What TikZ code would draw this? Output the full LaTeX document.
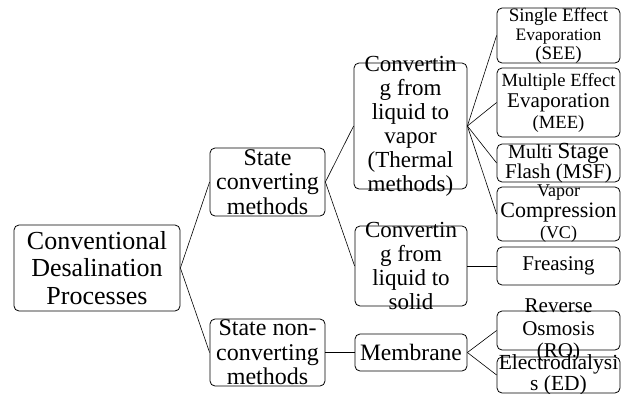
\documentclass[tikz,border=0pt]{standalone}
\usepackage{fontspec}
\setmainfont{Liberation Serif}
\usepackage{tikz}

\tikzset{
    caja/.style={draw, rounded corners=5pt, line width=0.8pt, inner sep=0pt},
    letra/.style 2 args={font=\fontsize{#1}{#2}\selectfont, align=center, inner sep=0pt},
    rama/.style={line width=0.6pt}
}

\begin{document}
\begin{tikzpicture}[x=1pt, y=-1pt]

\useasboundingbox (0,0) rectangle (630,394);

% =====================================================
% RAIZ Y PRIMER NIVEL
% =====================================================

\node[caja, minimum width=166pt, minimum height=86pt,
    label={[letra={26}{27.5}]center:{Conventional\\Desalination\\Processes}}]
    (raiz) at (97,268) {};

\node[caja, minimum width=115pt, minimum height=68pt,
    label={[letra={24}{24.5}]center:{State\\converting\\methods}}]
    (conv) at (267.5,182) {};

\node[caja, minimum width=115pt, minimum height=67pt,
    label={[letra={24}{24.5}]center:{State non-\\converting\\methods}}]
    (noconv) at (267.5,352.5) {};

% =====================================================
% SEGUNDO NIVEL
% =====================================================

\node[caja, minimum width=113pt, minimum height=126pt,
    label={[letra={23}{24}]center:{Convertin\\g from\\liquid to\\vapor\\(Thermal\\methods)}}]
    (vapor) at (410.5,126) {};

\node[caja, minimum width=112pt, minimum height=80pt,
    label={[letra={23}{24}]center:{Convertin\\g from\\liquid to\\solid}}]
    (solido) at (411,266) {};

\node[caja, minimum width=112pt, minimum height=37pt,
    label={[letra={23.5}{24}]center:{Membrane}}]
    (membrana) at (411,352.5) {};

% =====================================================
% TERCER NIVEL (columna derecha)
% =====================================================

\node[caja, minimum width=123pt, minimum height=55pt,
    label={[letra={19}{19}]center:{Single Effect\\{\fontsize{17.5}{19}\selectfont Evaporation}\\(SEE)}}]
    (see) at (558.5,35.5) {};

\node[caja, minimum width=123pt, minimum height=69pt,
    label={[letra={18.6}{21}]center:{Multiple Effect\\{\fontsize{21}{21}\selectfont Evaporation}\\(MEE)}}]
    (mee) at (558.5,102.5) {};

\node[caja, minimum width=123pt, minimum height=38pt,
    label={[letra={20}{19}]center:{Multi {\fontsize{23}{19}\selectfont Stage}\\{\fontsize{21}{19}\selectfont Flash (MSF)}}}]
    (msf) at (558.5,163) {};

\node[caja, minimum width=123pt, minimum height=54pt,
    label={[letra={18}{21}]center:{Vapor\\{\fontsize{22}{21}\selectfont Compression}\\(VC)}}]
    (vc) at (558.5,214) {};

\node[caja, minimum width=123pt, minimum height=38pt,
    label={[letra={21}{21}]center:{Freasing}}]
    (freasing) at (558.5,266) {};

\node[caja, minimum width=123pt, minimum height=39pt,
    label={[letra={21}{22.5}]center:{Reverse\\Osmosis\\(RO)}}]
    (ro) at (558.5,330.5) {};

\node[caja, minimum width=123pt, minimum height=36pt,
    label={[letra={21.5}{19.5}]center:{Electrodialysi\\s (ED)}}]
    (ed) at (558.5,375) {};

% =====================================================
% CONEXIONES
% =====================================================

\draw[rama] (raiz.east) -- (conv.west);
\draw[rama] (raiz.east) -- (noconv.west);

\draw[rama] (conv.east) -- (vapor.west);
\draw[rama] (conv.east) -- (solido.west);
\draw[rama] (noconv.east) -- (membrana.west);

\foreach \n in {see, mee, msf, vc} {
    \draw[rama] (vapor.east) -- (\n.west);
}
\draw[rama] (solido.east) -- (freasing.west);
\draw[rama] (membrana.east) -- (ro.west);
\draw[rama] (membrana.east) -- (ed.west);

\end{tikzpicture}
\end{document}
